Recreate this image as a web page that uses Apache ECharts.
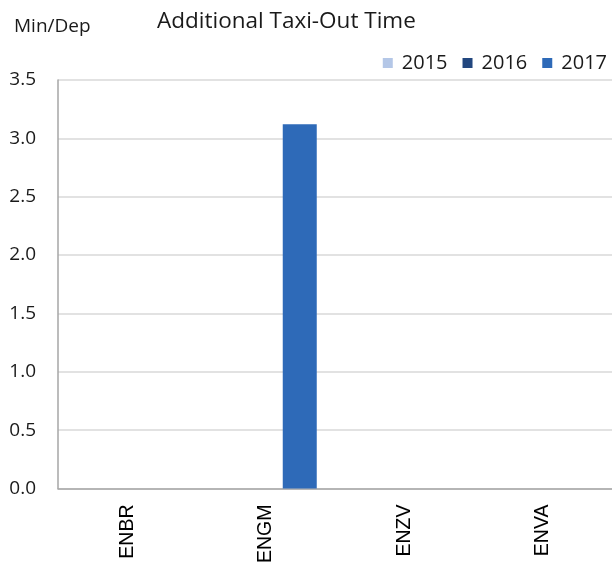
<!DOCTYPE html>
<html>
<head>
<meta charset="utf-8">
<script src="https://cdn.jsdelivr.net/npm/echarts@6/dist/echarts.min.js"></script>
<style>
  html, body { margin: 0; padding: 0; background: #fff; }
  #chart { width: 612px; height: 566px; }
</style>
</head>
<body>
<div id="chart"></div>
<script>
// Airports on the category axis
const airports = ['ENBR', 'ENGM', 'ENZV', 'ENVA'];
// Additional taxi-out time (min per departure) by year
const years = ['2015', '2016', '2017'];
const values2015 = [0, 0, 0, 0];
const values2016 = [0, 0, 0, 0];
const values2017 = [0, 3.12, 0, 0];
const yearColors = ['#B4C7E7', '#22477F', '#2E6AB8'];

const seriesValues = [values2015, values2016, values2017];
const textFont = 'Open Sans';

const chart = echarts.init(document.getElementById('chart'), null, { renderer: 'canvas' });
chart.setOption({
  animation: false,
  backgroundColor: '#ffffff',
  title: [
    {
      text: 'Additional Taxi-Out Time',
      left: 152, top: 5,
      textStyle: { fontFamily: textFont, fontSize: 22.5, fontWeight: 'normal', color: '#1a1a1a' }
    },
    {
      text: 'Min/Dep',
      left: 9, top: 12,
      textStyle: { fontFamily: textFont, fontSize: 19, fontWeight: 'normal', color: '#1a1a1a' }
    }
  ],
  legend: {
    data: years,
    right: 0, top: 48,
    itemWidth: 10, itemHeight: 10, itemGap: 15,
    icon: 'rect',
    textStyle: { fontFamily: textFont, fontSize: 20, color: '#1a1a1a', padding: [0, 0, 0, 4] }
  },
  grid: { left: 58, right: 0, top: 80, bottom: 74, containLabel: false },
  xAxis: {
    type: 'category',
    data: airports,
    axisLine: { lineStyle: { color: '#A6A6A6', width: 1.5 } },
    axisTick: { show: false },
    axisLabel: {
      rotate: 90, margin: 16,
      fontFamily: 'Liberation Sans', fontSize: 19.5, color: '#000'
    }
  },
  yAxis: {
    type: 'value',
    min: 0, max: 3.5, interval: 0.5,
    axisLine: { show: true, lineStyle: { color: '#A6A6A6', width: 1.5 } },
    axisTick: { show: false },
    splitLine: { lineStyle: { color: '#D9D9D9', width: 1.5 } },
    axisLabel: {
      margin: 22,
      fontFamily: textFont, fontSize: 19, color: '#1a1a1a',
      formatter: v => v.toFixed(1)
    }
  },
  series: years.map((y, i) => ({
    name: y,
    type: 'bar',
    data: seriesValues[i],
    barWidth: 34,
    barGap: '0%',
    itemStyle: { color: yearColors[i] }
  }))
});
</script>
</body>
</html>
